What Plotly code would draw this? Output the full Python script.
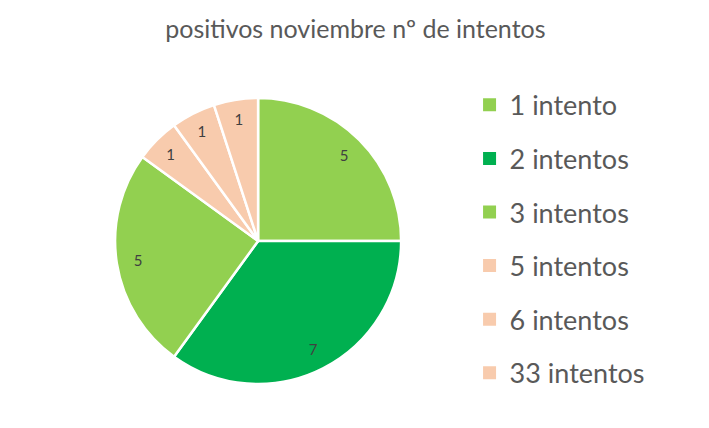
import plotly.graph_objects as go

# data
categorias = ['1 intento', '2 intentos', '3 intentos', '5 intentos', '6 intentos', '33 intentos']
positivos = [5, 7, 5, 1, 1, 1]
colores = ['#92D050', '#00B050', '#92D050', '#F8CBAD', '#F8CBAD', '#F8CBAD']

titulo = 'positivos noviembre nº de intentos'
fuente = 'Lato'
dominio = dict(x=[0.151, 0.5545], y=[0.1215, 0.7898])

fig = go.Figure()

# the pie itself, no text
fig.add_trace(go.Pie(
    labels=categorias,
    values=positivos,
    sort=False,
    direction='clockwise',
    rotation=0,
    marker=dict(colors=colores, line=dict(color='white', width=2.5)),
    textinfo='none',
    domain=dominio,
    showlegend=False,
    hoverinfo='label+value',
))

# transparent ring on top so the value labels sit near the rim like in excel
fig.add_trace(go.Pie(
    labels=categorias,
    values=positivos,
    sort=False,
    direction='clockwise',
    rotation=0,
    hole=0.7,
    marker=dict(colors=['rgba(0,0,0,0)'] * len(categorias), line=dict(width=0)),
    textinfo='value',
    textposition='inside',
    insidetextorientation='horizontal',
    textfont=dict(family=fuente, size=15, color='#404040'),
    domain=dominio,
    showlegend=False,
    hoverinfo='skip',
))

# legend entries as separate groups so the spacing can be opened up
for cat, col in zip(categorias, colores):
    fig.add_trace(go.Scatter(
        x=[None], y=[None],
        mode='markers',
        marker=dict(symbol='square', size=13, color=col),
        name=cat,
        legendgroup=cat,
        showlegend=True,
    ))

fig.update_layout(
    width=709,
    height=428,
    margin=dict(l=0, r=0, t=0, b=0),
    paper_bgcolor='white',
    plot_bgcolor='white',
    uniformtext=dict(minsize=15, mode='show'),
    title=dict(text=titulo, x=0.49, xanchor='center', y=0.95, yanchor='middle',
               font=dict(family=fuente, size=25, color='#595959')),
    xaxis=dict(visible=False),
    yaxis=dict(visible=False),
    legend=dict(
        x=0.651, y=0.83, xanchor='left', yanchor='top',
        font=dict(family=fuente, size=27, color='#595959'),
        tracegroupgap=15.5,
        itemwidth=30,
        bgcolor='rgba(0,0,0,0)',
    ),
)

fig.write_html('out.html')
